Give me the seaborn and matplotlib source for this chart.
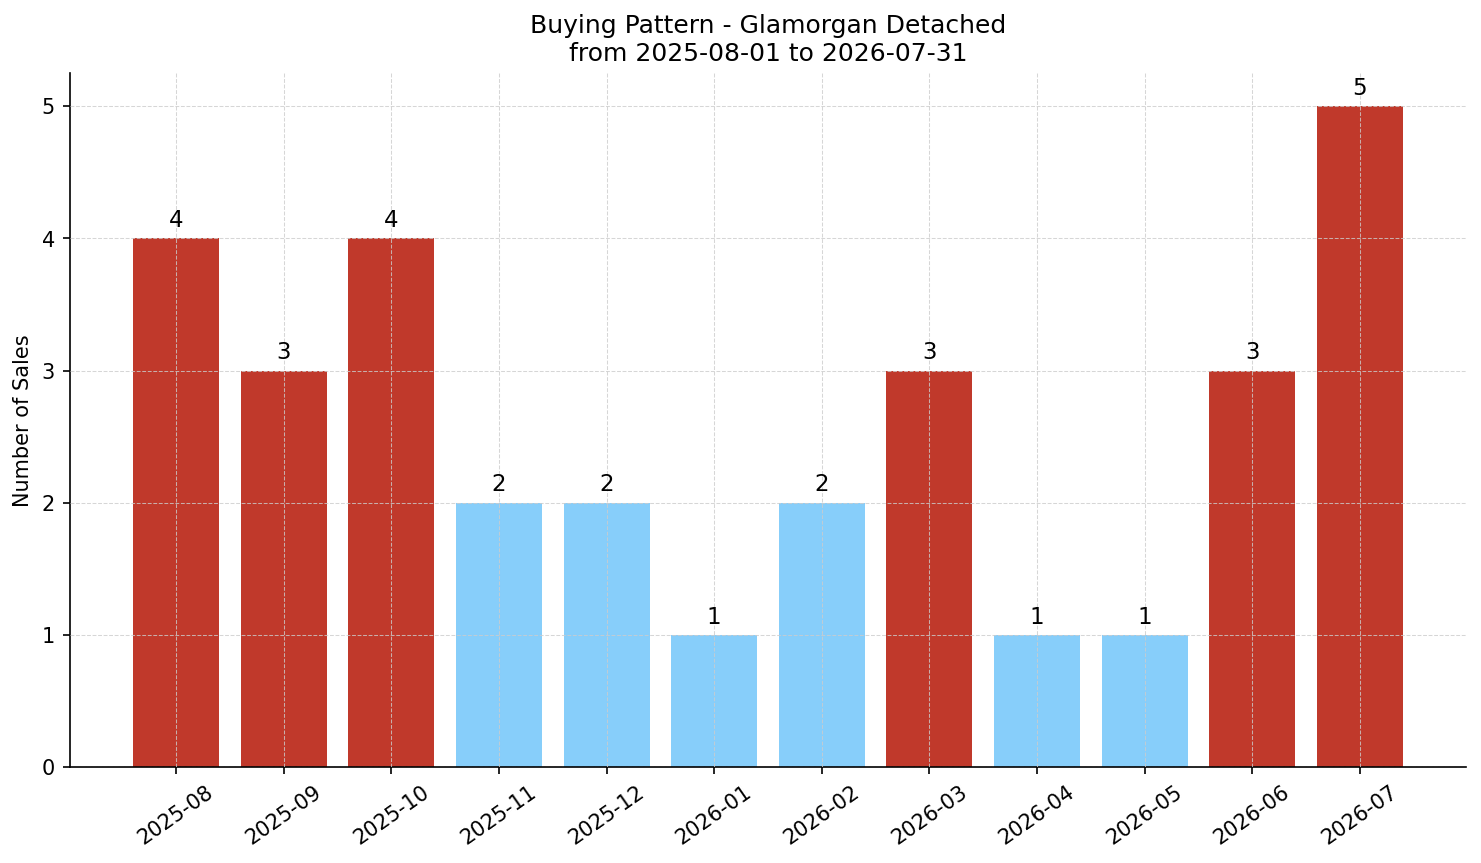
import matplotlib
matplotlib.use("Agg")
import matplotlib.pyplot as plt
import seaborn as sns
import pandas as pd

months = ["2025-08", "2025-09", "2025-10", "2025-11", "2025-12", "2026-01",
          "2026-02", "2026-03", "2026-04", "2026-05", "2026-06", "2026-07"]
sales = [4, 3, 4, 2, 2, 1, 2, 3, 1, 1, 3, 5]
title = "Buying Pattern - Glamorgan Detached\nfrom 2025-08-01 to 2026-07-31"
high_color = "#c0392b"
low_color = "#87cefa"

plt.rcParams["font.family"] = ["DejaVu Sans"]

df = pd.DataFrame({"month": months, "sales": sales})
mean_val = sum(sales) / len(sales)
palette = {m: (high_color if s > mean_val else low_color) for m, s in zip(months, sales)}

fig, ax = plt.subplots(figsize=(9.874, 5.754), dpi=150)
sns.barplot(data=df, x="month", y="sales", hue="month", palette=palette,
            legend=False, width=0.8, saturation=1, ax=ax, zorder=1,
            linewidth=0, edgecolor="none")

for i, s in enumerate(sales):
    ax.text(i, s + 0.05, str(s), ha="center", va="bottom", fontsize=11,
            color="black", zorder=4)

ax.set_xlim(-0.99, len(months) - 1 + 0.99)
ax.set_ylim(0, 5.25)
ax.set_xlabel("")
ax.set_ylabel("Number of Sales", fontsize=10)
ax.set_title(title, fontsize=12)
ax.grid(True, linestyle="--", linewidth=0.5, color="#cccccc", alpha=0.8, zorder=3)
ax.set_axisbelow(False)
for line in ax.get_xgridlines() + ax.get_ygridlines():
    line.set_zorder(3)
sns.despine(ax=ax)
plt.setp(ax.get_xticklabels(), rotation=35, ha="center")
ax.tick_params(labelsize=10)

fig.subplots_adjust(left=0.047, right=0.99, top=0.915, bottom=0.111)
fig.savefig("out.png", dpi=150)
